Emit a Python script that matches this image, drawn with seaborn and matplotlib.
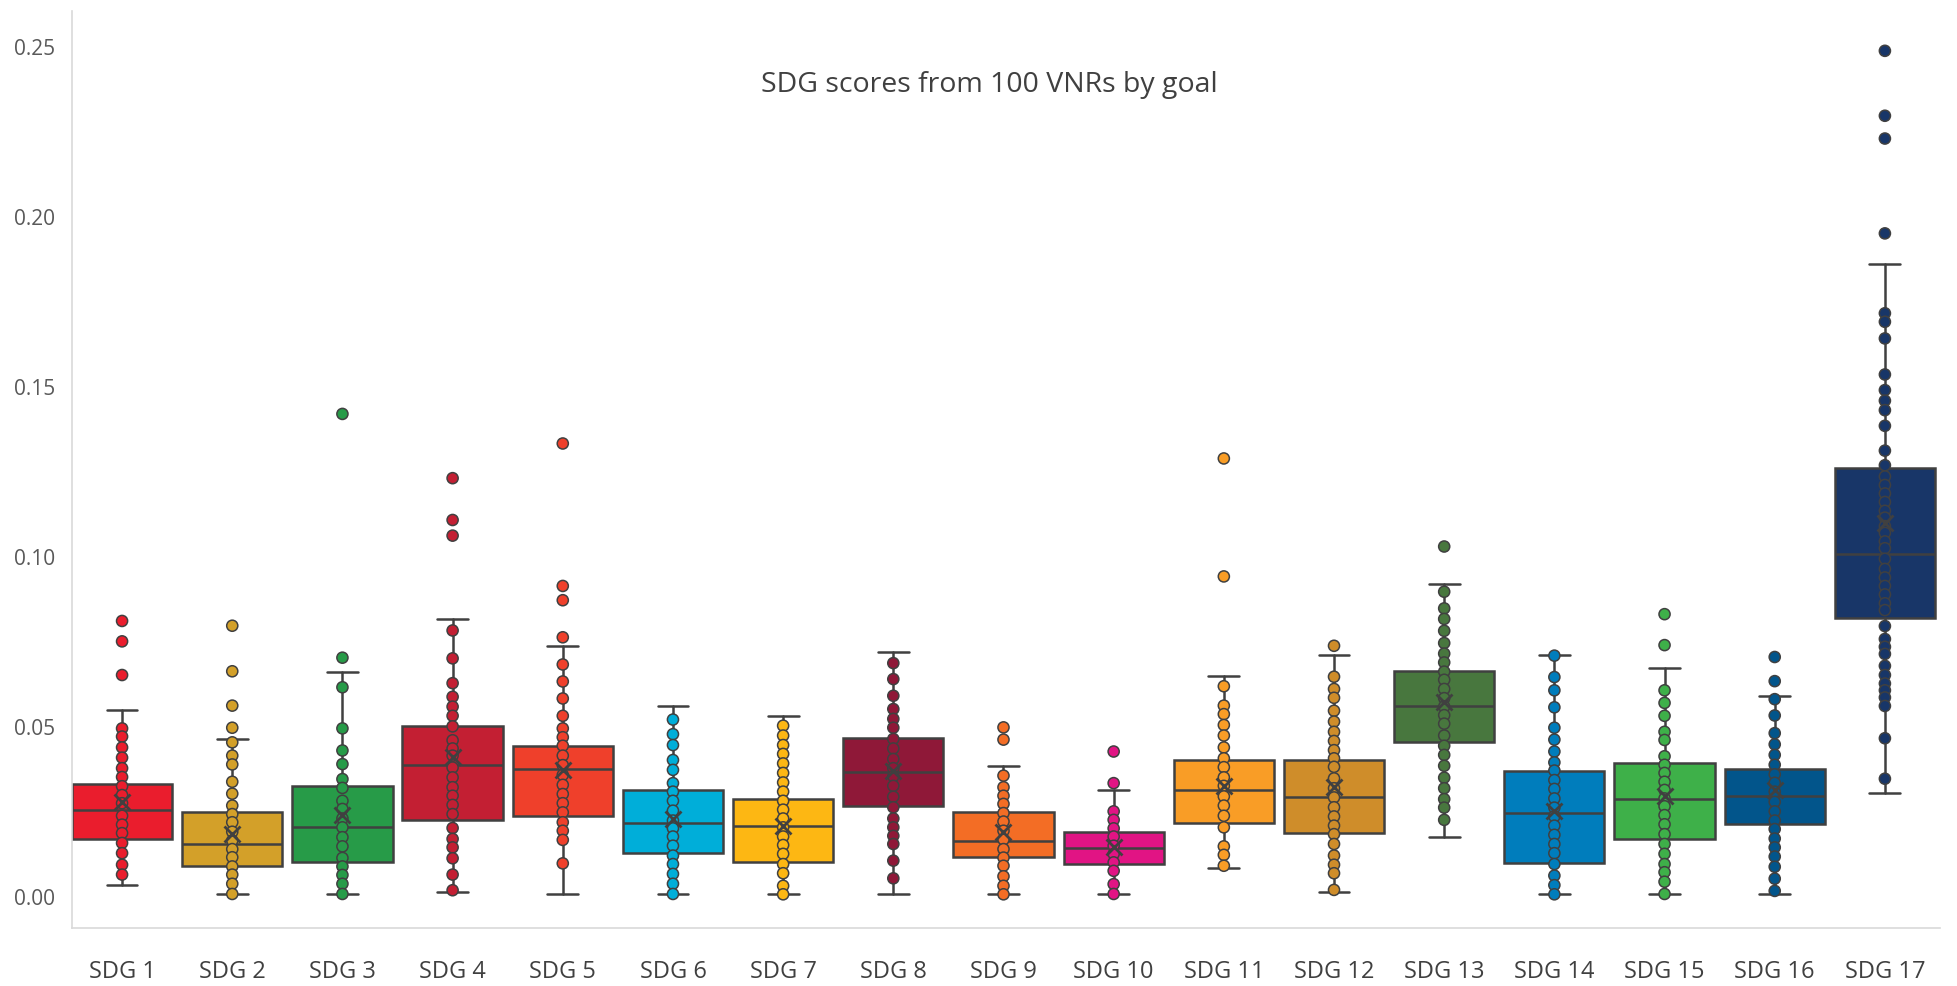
import numpy as np
import pandas as pd
import matplotlib
matplotlib.use("Agg")
import matplotlib.pyplot as plt
import seaborn as sns

labels = ["SDG 1", "SDG 2", "SDG 3", "SDG 4", "SDG 5", "SDG 6", "SDG 7", "SDG 8", "SDG 9",
          "SDG 10", "SDG 11", "SDG 12", "SDG 13", "SDG 14", "SDG 15", "SDG 16", "SDG 17"]
colors = ["#EA1D2D", "#D3A029", "#279B48", "#C31F33", "#EF402B", "#00AED9", "#FDB713", "#8F1838",
          "#F36D25", "#E11484", "#F99D26", "#CF8D2A", "#48773E", "#007DBC", "#3EB049", "#02558B", "#183668"]

# box statistics
q1 = [0.0168, 0.0089, 0.0099, 0.0225, 0.0234, 0.0126, 0.0101, 0.0266, 0.0114,
      0.0093, 0.0214, 0.0185, 0.0454, 0.0096, 0.0168, 0.0212, 0.0819]
med = [0.0253, 0.0153, 0.0204, 0.0385, 0.0374, 0.0215, 0.0205, 0.0366, 0.0163,
       0.0141, 0.0313, 0.0291, 0.0558, 0.0244, 0.0285, 0.0294, 0.1007]
q3 = [0.0329, 0.0246, 0.0324, 0.0501, 0.0442, 0.0312, 0.0285, 0.0464, 0.0246,
      0.0187, 0.0401, 0.0401, 0.0663, 0.0367, 0.0390, 0.0373, 0.1259]
means = [0.0276, 0.0182, 0.0238, 0.0410, 0.0371, 0.0226, 0.0207, 0.0369, 0.0187,
         0.0144, 0.0324, 0.0320, 0.0572, 0.0251, 0.0295, 0.0312, 0.1098]
whis_lo = [0.0033, 0.0006, 0.0006, 0.0013, 0.0006, 0.0006, 0.0005, 0.0006, 0.0005,
           0.0006, 0.0081, 0.0011, 0.0175, 0.0005, 0.0006, 0.0005, 0.0304]
whis_hi = [0.0547, 0.0462, 0.0658, 0.0815, 0.0736, 0.0560, 0.0528, 0.0717, 0.0383,
           0.0312, 0.0646, 0.0710, 0.0918, 0.0708, 0.0670, 0.0587, 0.1859]

# individual VNR scores (distinct values visible as dots)
sdg1 = [0.0809, 0.0749, 0.0650, 0.0493, 0.0469, 0.0437, 0.0407, 0.0376, 0.0350, 0.0323, 0.0297,
        0.0273, 0.0236, 0.0210, 0.0185, 0.0156, 0.0126, 0.0092, 0.0063]
sdg2 = [0.0795, 0.0661, 0.0560, 0.0495, 0.0452, 0.0413, 0.0387, 0.0336, 0.0301, 0.0266, 0.0241,
        0.0217, 0.0189, 0.0163, 0.0138, 0.0114, 0.0087, 0.0063, 0.0036, 0.0006]
sdg3 = [0.1418, 0.0701, 0.0614, 0.0493, 0.0428, 0.0388, 0.0344, 0.0318, 0.0280, 0.0256, 0.0228,
        0.0202, 0.0173, 0.0146, 0.0112, 0.0087, 0.0062, 0.0036, 0.0006]
sdg4 = [0.1229, 0.1106, 0.1060, 0.0781, 0.0699, 0.0626, 0.0586, 0.0557, 0.0530, 0.0499, 0.0458,
        0.0434, 0.0413, 0.0378, 0.0349, 0.0320, 0.0295, 0.0268, 0.0241, 0.0200, 0.0168, 0.0143,
        0.0111, 0.0063, 0.0017]
sdg5 = [0.1331, 0.0912, 0.0870, 0.0761, 0.0681, 0.0631, 0.0581, 0.0530, 0.0493, 0.0467, 0.0442,
        0.0413, 0.0385, 0.0356, 0.0327, 0.0300, 0.0273, 0.0246, 0.0217, 0.0192, 0.0165, 0.0096]
sdg6 = [0.0519, 0.0476, 0.0444, 0.0400, 0.0371, 0.0332, 0.0307, 0.0280, 0.0251, 0.0222, 0.0199,
        0.0175, 0.0148, 0.0119, 0.0094, 0.0065, 0.0036, 0.0006]
sdg7 = [0.0501, 0.0472, 0.0444, 0.0418, 0.0390, 0.0362, 0.0334, 0.0307, 0.0280, 0.0254, 0.0228,
        0.0202, 0.0175, 0.0150, 0.0124, 0.0094, 0.0067, 0.0030, 0.0005]
sdg8 = [0.0685, 0.0638, 0.0589, 0.0550, 0.0521, 0.0495, 0.0462, 0.0434, 0.0403, 0.0376, 0.0352,
        0.0324, 0.0292, 0.0261, 0.0228, 0.0202, 0.0177, 0.0153, 0.0104, 0.0052]
sdg9 = [0.0496, 0.0460, 0.0354, 0.0320, 0.0295, 0.0271, 0.0244, 0.0219, 0.0192, 0.0166, 0.0138,
        0.0113, 0.0089, 0.0058, 0.0030, 0.0005]
sdg10 = [0.0425, 0.0332, 0.0249, 0.0224, 0.0199, 0.0175, 0.0148, 0.0124, 0.0099, 0.0074, 0.0035,
         0.0006]
sdg11 = [0.1287, 0.0940, 0.0617, 0.0560, 0.0535, 0.0503, 0.0472, 0.0437, 0.0405, 0.0379, 0.0349,
         0.0324, 0.0293, 0.0266, 0.0236, 0.0202, 0.0146, 0.0121, 0.0089]
sdg12 = [0.0736, 0.0645, 0.0609, 0.0583, 0.0545, 0.0513, 0.0483, 0.0456, 0.0429, 0.0405, 0.0380,
         0.0346, 0.0317, 0.0290, 0.0261, 0.0234, 0.0207, 0.0182, 0.0153, 0.0119, 0.0092, 0.0067,
         0.0018]
sdg13 = [0.1028, 0.0895, 0.0846, 0.0815, 0.0780, 0.0744, 0.0713, 0.0687, 0.0660, 0.0636, 0.0609,
         0.0582, 0.0557, 0.0532, 0.0507, 0.0472, 0.0442, 0.0415, 0.0383, 0.0348, 0.0317, 0.0285,
         0.0260, 0.0224]
sdg14 = [0.0707, 0.0644, 0.0605, 0.0555, 0.0495, 0.0460, 0.0425, 0.0393, 0.0369, 0.0341, 0.0315,
         0.0287, 0.0260, 0.0234, 0.0207, 0.0180, 0.0153, 0.0126, 0.0094, 0.0060, 0.0032, 0.0005]
sdg15 = [0.0829, 0.0738, 0.0605, 0.0568, 0.0530, 0.0483, 0.0459, 0.0411, 0.0386, 0.0362, 0.0336,
         0.0312, 0.0287, 0.0264, 0.0238, 0.0211, 0.0182, 0.0153, 0.0124, 0.0094, 0.0070, 0.0042,
         0.0006]
sdg16 = [0.0703, 0.0632, 0.0579, 0.0531, 0.0479, 0.0446, 0.0415, 0.0386, 0.0358, 0.0333, 0.0307,
         0.0277, 0.0249, 0.0222, 0.0197, 0.0169, 0.0143, 0.0116, 0.0086, 0.0051, 0.0015]
sdg17 = [0.2486, 0.2295, 0.2228, 0.1949, 0.1714, 0.1689, 0.1640, 0.1534, 0.1488, 0.1457, 0.1429,
         0.1383, 0.1310, 0.1267, 0.1234, 0.1209, 0.1184, 0.1159, 0.1133, 0.1113, 0.1088, 0.1068,
         0.1043, 0.1023, 0.0992, 0.0962, 0.0937, 0.0912, 0.0887, 0.0861, 0.0841, 0.0794, 0.0756,
         0.0733, 0.0712, 0.0677, 0.0650, 0.0625, 0.0605, 0.0584, 0.0559, 0.0464, 0.0345]

scores = [sdg1, sdg2, sdg3, sdg4, sdg5, sdg6, sdg7, sdg8, sdg9, sdg10,
          sdg11, sdg12, sdg13, sdg14, sdg15, sdg16, sdg17]

df = pd.DataFrame({"goal": [lab for lab, s in zip(labels, scores) for _ in s],
                   "score": [v for s in scores for v in s]})

sns.set_style("white")
plt.rcParams["font.family"] = ["Open Sans", "DejaVu Sans"]

edge = "#404040"
txt = "#595959"

fig = plt.figure(figsize=(19.58, 9.87), dpi=100)
ax = fig.add_axes([0.0368, 0.0588, 0.954, 0.929])

stats = []
for i in range(len(labels)):
    stats.append({"q1": q1[i], "med": med[i], "q3": q3[i], "mean": means[i],
                  "whislo": whis_lo[i], "whishi": whis_hi[i], "fliers": [], "label": labels[i]})

pos = np.arange(len(labels))
bp = ax.bxp(stats, positions=pos, widths=0.91, patch_artist=True, showfliers=False,
            showmeans=False, capwidths=0.28, zorder=1,
            boxprops=dict(edgecolor=edge, linewidth=1.8),
            whiskerprops=dict(color=edge, linewidth=1.8),
            capprops=dict(color=edge, linewidth=1.8),
            medianprops=dict(color=edge, linewidth=1.8))
for patch, c in zip(bp["boxes"], colors):
    patch.set_facecolor(c)

sns.stripplot(data=df, x="goal", y="score", hue="goal", order=labels, hue_order=labels,
              palette=colors, jitter=False, size=8, linewidth=1.1, edgecolor=edge,
              legend=False, zorder=3, ax=ax)

ax.plot(pos, means, linestyle="none", marker="x", markersize=12, markeredgewidth=2,
        color=edge, zorder=4)

ax.set_xlim(-0.454, 16.5)
ax.set_ylim(-0.0094, 0.2603)
ax.set_yticks([0.0, 0.05, 0.10, 0.15, 0.20, 0.25])
ax.set_yticklabels(["0.00", "0.05", "0.10", "0.15", "0.20", "0.25"])
ax.set_xticks(pos)
ax.set_xticklabels(labels)
ax.set_xlabel("")
ax.set_ylabel("")
ax.tick_params(axis="y", length=0, pad=12, labelsize=15, labelcolor=txt)
ax.tick_params(axis="x", length=0, pad=22, labelsize=17, labelcolor="#404040")

for side in ["top", "right"]:
    ax.spines[side].set_visible(False)
for side in ["left", "bottom"]:
    ax.spines[side].set_color("#d9d9d9")
    ax.spines[side].set_linewidth(1.2)

ax.text(0.491, 0.92, "SDG scores from 100 VNRs by goal", transform=ax.transAxes,
        ha="center", va="center", fontsize=20.5, color="#404040")

fig.savefig("out.png", dpi=100, facecolor="white")
